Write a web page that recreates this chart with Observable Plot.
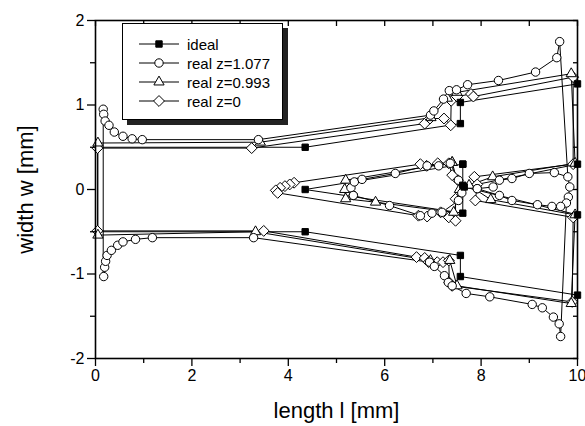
<!DOCTYPE html>
<html><head><meta charset="utf-8">
<script src="https://cdn.jsdelivr.net/npm/d3@7"></script>
<script src="https://cdn.jsdelivr.net/npm/@observablehq/plot@0.6"></script>
<style>
body{margin:0;background:#fff;}
#wrap{position:relative;width:585px;height:426px;font-family:"Liberation Sans",Arial,Helvetica,sans-serif;}
#legend{position:absolute;left:122px;top:23px;width:161px;height:97px;box-sizing:border-box;border:1px solid #000;background:#fff;box-shadow:5px 5px 0 #222;}
.row{position:absolute;left:14px;height:18px;display:flex;align-items:center;font-size:15px;color:#000;}
.row svg{margin-right:6px;}
</style></head><body><div id="wrap"></div>
<script>
// ---- tick definitions ----
const xLabels = [0, 2, 4, 6, 8, 10];
const xMinor = [1, 3, 5, 7, 9];
const xAll = [0, 1, 2, 3, 4, 5, 6, 7, 8, 9, 10];
const yLabels = [-2, -1, 0, 1, 2];
const yMinor = [-1.5, -0.5, 0.5, 1.5];
const yAll = [-2, -1.5, -1, -0.5, 0, 0.5, 1, 1.5, 2];
const seriesNames = ["ideal", "real z=1.077", "real z=0.993", "real z=0"];

// ---- ideal (filled squares) ----
const idealTop = [[4.35,0.5],[7.57,0.78],[7.57,1.03],[10,1.25]];
const idealBottom = [[4.35,-0.5],[7.57,-0.78],[7.57,-1.03],[10,-1.25]];
const idealInnerA = [[7.62,0.3],[4.35,0],[7.62,-0.28],[7.62,0.05],[7.62,0.3]];
const idealInnerB = [[10,0.3],[7.65,0.03],[10,-0.3]];
const idealEdgeTop = [[0,0.5],[4.35,0.5]];
const idealEdgeBottom = [[0,-0.5],[4.35,-0.5]];
const idealEdgeLeft = [[0,0.5],[0,-0.5]];
const idealEdgeRight = [[10,1.25],[10,-1.25]];

// ---- real z=1.077 (open circles) ----
const circTop = [[0.16,0.95],[0.17,0.89],[0.2,0.81],[0.28,0.76],[0.39,0.68],[0.57,0.63],[0.76,0.6],[0.97,0.59],[3.38,0.59],[6.95,0.88],[7.02,0.93],[7.22,1.07],[7.34,1.17],[7.49,1.18],[7.72,1.24],[8.36,1.29],[9.13,1.39],[9.57,1.56],[9.63,1.75]];
const circBottom = [[0.17,-1.03],[0.19,-0.92],[0.21,-0.85],[0.24,-0.78],[0.33,-0.72],[0.46,-0.66],[0.57,-0.62],[0.83,-0.59],[1.18,-0.57],[3.28,-0.57],[6.93,-0.86],[7.03,-0.91],[7.24,-1.02],[7.32,-1.1],[7.4,-1.14],[7.69,-1.23],[8.18,-1.27],[9.06,-1.36],[9.27,-1.4],[9.5,-1.51],[9.62,-1.59],[9.65,-1.74]];
const circInnerA = [[5.35,-0.07],[5.3,0.02],[5.37,0.09],[5.53,0.12],[6.22,0.19],[6.88,0.28],[7.12,0.28],[7.36,0.31],[7.53,0.11],[7.6,-0.04],[7.53,-0.13],[7.19,-0.27],[6.98,-0.28],[6.74,-0.31],[6.1,-0.19],[5.35,-0.07]];
const circInnerB = [[7.92,0.01],[8.25,0.03],[8.38,0.11],[8.64,0.13],[9.0,0.19],[9.52,0.2],[9.8,0.15],[9.84,0.03],[9.81,-0.09],[9.77,-0.16],[9.65,-0.2],[9.47,-0.2],[9.17,-0.18],[8.64,-0.13],[8.38,-0.07],[7.92,0.01]];
const circEdgeLeft = [[0.16,0.95],[0.16,-1.03]];
const circEdgeTopRight = [[9.63,1.75],[9.8,0.15]];
const circEdgeBottomRight = [[9.65,-1.74],[9.77,-0.16]];

// ---- real z=0.993 (open triangles) ----
const triTop = [[0.05,0.55],[3.42,0.56],[6.96,0.85],[7.3,1.08],[7.5,1.15],[9.87,1.37]];
const triBottom = [[0.05,-0.54],[3.32,-0.5],[6.95,-0.84],[7.35,-0.84],[7.5,-1.14],[9.87,-1.35]];
const triInnerA = [[7.4,0.32],[5.19,0.11],[5.17,0.0],[5.19,-0.11],[5.81,-0.15],[7.43,-0.27],[7.55,0.0],[7.4,0.32]];
const triInnerB = [[9.95,0.31],[8.24,0.15],[7.75,0.05],[8.2,-0.12],[9.95,-0.3]];
const triEdgeLeft = [[0.05,0.55],[0.05,-0.54]];
const triEdgeRightTop = [[9.87,1.37],[9.95,0.31]];
const triEdgeRightBottom = [[9.95,-0.3],[9.87,-1.35]];

// ---- real z=0 (open diamonds) ----
const diaTop = [[0.04,0.49],[3.24,0.49],[6.83,0.78],[6.94,0.84],[7.23,0.84],[7.37,0.76],[7.38,1.05],[7.5,1.1],[7.79,1.13],[7.84,1.1],[9.91,1.33]];
const diaBottom = [[0.04,-0.49],[3.49,-0.49],[6.66,-0.8],[6.83,-0.81],[6.91,-0.86],[7.09,-0.86],[7.21,-0.86],[7.33,-0.84],[7.34,-1.1],[7.4,-1.14],[9.89,-1.33]];
const diaInnerA = [[7.52,0.11],[7.4,0.17],[7.33,0.31],[7.1,0.31],[6.87,0.28],[6.74,0.3],[4.12,0.08],[4.03,0.06],[3.93,0.04],[3.83,0.02],[3.74,-0.01],[3.78,-0.04],[6.7,-0.31],[6.88,-0.32],[7.16,-0.27],[7.33,-0.33],[7.47,-0.37],[7.47,-0.11]];
const diaInnerB = [[9.91,0.3],[7.86,0.15],[7.92,0.06],[7.88,-0.13],[9.91,-0.33]];
const diaEdgeLeft = [[0.04,0.49],[0.04,-0.49]];
const diaEdgeRightTop = [[9.91,1.33],[9.91,0.3]];
const diaEdgeRightBottom = [[9.91,-0.33],[9.89,-1.33]];

// ---- build table ----
const table = [];
let segId = 0;
function add(series, poly, marked) {
  segId++;
  poly.forEach(([x, y]) => table.push({series, seg: segId, x, y, marked}));
}
[idealTop, idealBottom, idealInnerA, idealInnerB].forEach(p => add(seriesNames[0], p, true));
[idealEdgeTop, idealEdgeBottom, idealEdgeLeft, idealEdgeRight].forEach(p => add(seriesNames[0], p, false));
[circTop, circBottom, circInnerA, circInnerB].forEach(p => add(seriesNames[1], p, true));
[circEdgeLeft, circEdgeTopRight, circEdgeBottomRight].forEach(p => add(seriesNames[1], p, false));
[triTop, triBottom, triInnerA, triInnerB].forEach(p => add(seriesNames[2], p, true));
[triEdgeLeft, triEdgeRightTop, triEdgeRightBottom].forEach(p => add(seriesNames[2], p, false));
[diaTop, diaBottom, diaInnerA, diaInnerB].forEach(p => add(seriesNames[3], p, true));
[diaEdgeLeft, diaEdgeRightTop, diaEdgeRightBottom].forEach(p => add(seriesNames[3], p, false));

const pts = name => table.filter(d => d.marked && d.series === name);

const chart = Plot.plot({
  width: 585, height: 426,
  marginLeft: 95, marginRight: 8, marginTop: 20, marginBottom: 68,
  style: {fontFamily: '"Liberation Sans", Arial, Helvetica, sans-serif', fontSize: "16px", background: "#fff", color: "#000"},
  x: {domain: [0, 10]},
  y: {domain: [-2, 2]},
  marks: [
    Plot.line(table, {x: "x", y: "y", z: "seg", stroke: "#000", strokeWidth: 1}),
    Plot.dot(pts(seriesNames[3]), {x: "x", y: "y", symbol: "diamond2", r: 4.9, fill: "#fff", stroke: "#000", strokeWidth: 1}),
    Plot.dot(pts(seriesNames[2]), {x: "x", y: "y", symbol: "triangle", r: 3.8, fill: "#fff", stroke: "#000", strokeWidth: 1}),
    Plot.dot(pts(seriesNames[1]), {x: "x", y: "y", symbol: "circle", r: 4.2, fill: "#fff", stroke: "#000", strokeWidth: 1}),
    Plot.dot(pts(seriesNames[0]), {x: "x", y: "y", symbol: "square", r: 3.6, fill: "#000", stroke: "#000", strokeWidth: 1}),
    Plot.frame({stroke: "#000", strokeWidth: 1.6}),
    Plot.axisX({anchor: "bottom", ticks: xLabels, tickSize: 8, tickPadding: 3, tickFormat: d => String(d), label: null, fontSize: 16, strokeWidth: 1.3}),
    Plot.axisX({anchor: "bottom", ticks: xMinor, tickSize: 5, tickFormat: () => "", label: null, strokeWidth: 1.3}),
    Plot.axisX({anchor: "top", ticks: xAll, tickSize: 5, dy: 5, tickFormat: () => "", label: null, strokeWidth: 1.3}),
    Plot.axisY({anchor: "left", ticks: yLabels, tickSize: 8, tickPadding: 3, tickFormat: d => String(d), label: null, fontSize: 16, strokeWidth: 1.3}),
    Plot.axisY({anchor: "left", ticks: yMinor, tickSize: 5, tickFormat: () => "", label: null, strokeWidth: 1.3}),
    Plot.axisY({anchor: "right", ticks: yAll, tickSize: 5, dx: -5, tickFormat: () => "", label: null, strokeWidth: 1.3}),
    Plot.text(["length l [mm]"], {frameAnchor: "bottom", dy: 52, fontSize: 22, textAnchor: "middle", lineAnchor: "middle"}),
    Plot.text(["width w [mm]"], {frameAnchor: "left", dx: -70, rotate: -90, fontSize: 22, textAnchor: "middle", lineAnchor: "middle"})
  ]
});
const wrap = document.getElementById("wrap");
wrap.appendChild(chart);

// ---- legend overlay ----
const legend = document.createElement("div");
legend.id = "legend";
const symbolTypes = [d3.symbolSquare, d3.symbolCircle, d3.symbolTriangle, d3.symbolDiamond2];
const radii = [3.6, 4.2, 3.8, 4.9];
seriesNames.forEach((name, i) => {
  const row = document.createElement("div");
  row.className = "row";
  row.style.top = (11 + i * 19) + "px";
  const s = d3.create("svg").attr("width", 44).attr("height", 18);
  s.append("line").attr("x1", 2).attr("x2", 42).attr("y1", 9).attr("y2", 9).attr("stroke", "#000").attr("stroke-width", 1);
  s.append("path")
    .attr("d", d3.symbol(symbolTypes[i], Math.PI * radii[i] * radii[i])())
    .attr("transform", "translate(22,9)")
    .attr("fill", i === 0 ? "#000" : "#fff").attr("stroke", "#000").attr("stroke-width", 1);
  row.appendChild(s.node());
  const t = document.createElement("span");
  t.textContent = name;
  row.appendChild(t);
  legend.appendChild(row);
});
wrap.appendChild(legend);
</script>
</body></html>
